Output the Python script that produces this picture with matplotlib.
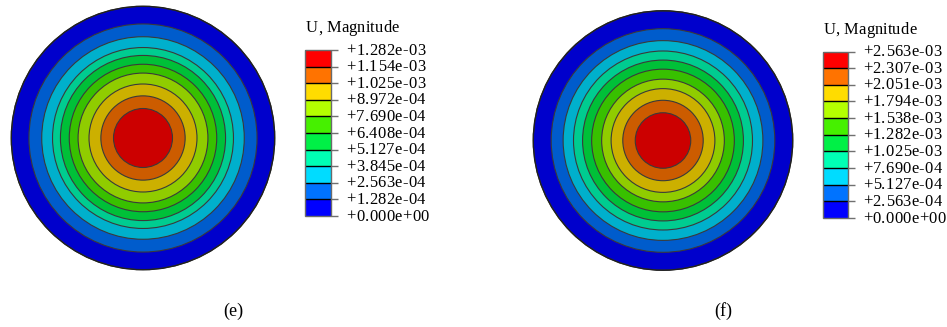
import numpy as np
import matplotlib
matplotlib.use('Agg')
import matplotlib.pyplot as plt
from matplotlib.colors import ListedColormap, BoundaryNorm, to_rgb
from matplotlib.cm import ScalarMappable
from matplotlib.patches import Circle
from matplotlib.transforms import offset_copy, blended_transform_factory

W, H, DPI = 947, 327, 100

# legend levels (U, Magnitude) for the two cases
levels_e = [0.0, 1.282e-4, 2.563e-4, 3.845e-4, 5.127e-4, 6.408e-4,
            7.690e-4, 8.972e-4, 1.025e-3, 1.154e-3, 1.282e-3]
levels_f = [0.0, 2.563e-4, 5.127e-4, 7.690e-4, 1.025e-3, 1.282e-3,
            1.538e-3, 1.794e-3, 2.051e-3, 2.307e-3, 2.563e-3]

# outer radius of each contour band (fraction of disk radius), outside -> in
radii_e = [1.0, 0.866, 0.769, 0.687, 0.627, 0.560, 0.493, 0.410, 0.320, 0.224]
radii_f = [1.0, 0.862, 0.770, 0.690, 0.620, 0.550, 0.473, 0.400, 0.310, 0.214]

band_colors = ['#0000ff', '#0073ff', '#00dcff', '#00ffb4', '#00f046',
               '#46f000', '#b4ff00', '#ffdc00', '#ff7300', '#ff0000']
SHADE = 0.8

captions = ['(e)', '(f)']

SERIF = 'Liberation Serif'
# Times-compatible advance widths (em) for the tracked legend text
ADV = {'+': 0.564, '-': 0.333, '.': 0.25, 'e': 0.444, ',': 0.25, ' ': 0.25,
       'U': 0.722, 'M': 0.889, 'a': 0.444, 'g': 0.5, 'n': 0.5, 'i': 0.278,
       't': 0.278, 'u': 0.5, 'd': 0.5}
for d in '0123456789':
    ADV[d] = 0.5


def tracked_text(ax, x, y, s, transform, size_px=15, track=1.0, dx0=0.0, dy0=0.0):
    dx = dx0
    for ch in s:
        tr = offset_copy(transform, fig=ax.figure, x=dx, y=dy0, units='dots')
        ax.text(x, y, ch, transform=tr, ha='left', va='baseline',
                fontsize=size_px * 72 / DPI, family=SERIF, color='black')
        dx += ADV.get(ch, 0.5) * size_px + track


def draw_disk(fig, cx, cy, R, radii):
    ax = fig.add_axes([(cx - R) / W, (H - cy - R) / H, 2 * R / W, 2 * R / H])
    for r, c in zip(radii, band_colors):
        fc = tuple(np.array(to_rgb(c)) * SHADE)
        ax.add_patch(Circle((0, 0), r, fc=fc, ec='#3a3a3a', lw=0.8))
    ax.add_patch(Circle((0, 0), radii[0], fc='none', ec='#202020', lw=1.0))
    ax.set_xlim(-1.01, 1.01)
    ax.set_ylim(-1.01, 1.01)
    ax.axis('off')
    return ax


def draw_legend(fig, ov, x0, y0, x1, y1, levels, title_base):
    cax = fig.add_axes([x0 / W, (H - y1) / H, (x1 - x0) / W, (y1 - y0) / H])
    cmap = ListedColormap(band_colors)
    norm = BoundaryNorm(levels, cmap.N)
    cb = fig.colorbar(ScalarMappable(norm=norm, cmap=cmap), cax=cax,
                      ticks=levels, drawedges=True)
    cb.outline.set_edgecolor('#6a6a6a')
    cb.outline.set_linewidth(1.0)
    cb.dividers.set_color('black')
    cb.dividers.set_linewidth(1.0)
    cax.tick_params(axis='y', length=7 * 72 / DPI, width=1.0, color='#707070',
                    labelright=False, labelleft=False)
    tr = blended_transform_factory(cax.transAxes, cax.transData)
    for v in levels:
        tracked_text(cax, 1.0, v, '{:+.3e}'.format(v), tr,
                     size_px=16.5, track=0.3, dx0=15.5, dy0=-4.6)
    tracked_text(ov, x0 + 1.0, title_base, 'U, Magnitude', ov.transData,
                 size_px=16.5, track=0.1)
    return cb


fig = plt.figure(figsize=(W / DPI, H / DPI), dpi=DPI)
ov = fig.add_axes([0, 0, 1, 1])
ov.set_xlim(0, W)
ov.set_ylim(H, 0)
ov.axis('off')

draw_disk(fig, 143, 138, 133, radii_e)
draw_disk(fig, 663, 140.5, 131, radii_f)

draw_legend(fig, ov, 305, 50, 331, 216, levels_e, 32.5)
draw_legend(fig, ov, 822.5, 51.5, 847.5, 218, levels_f, 34)

ov.text(233, 311, captions[0], ha='center', va='center', fontsize=13, family=SERIF)
ov.text(723, 311, captions[1], ha='center', va='center', fontsize=13, family=SERIF)

fig.savefig('out.png', dpi=DPI)
